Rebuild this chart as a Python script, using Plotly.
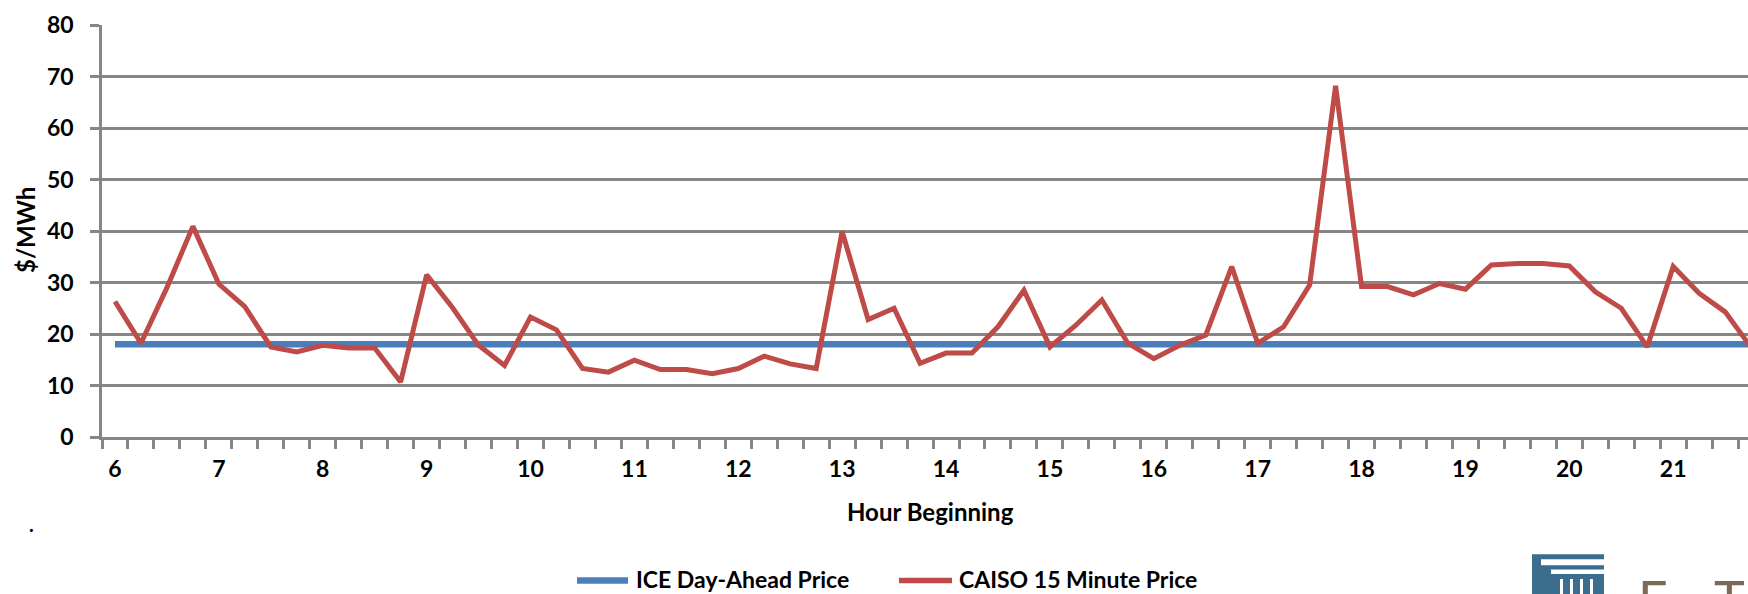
import plotly.graph_objects as go

# ---------------- data ----------------
hour_ticks = [6, 7, 8, 9, 10, 11, 12, 13, 14, 15, 16, 17, 18, 19, 20, 21]
hour_labels = ["6", "7", "8", "9", "10", "11", "12", "13", "14", "15", "16", "17", "18", "19", "20", "21"]
# 15-minute intervals (hour beginning), 6:00 .. 21:45
intervals = [h + q / 4 for h in range(6, 22) for q in range(4)]

caiso_15min = [26.3, 18.2, 29.0, 40.9, 29.7, 25.3, 17.5, 16.5, 17.8, 17.3, 17.3, 10.7, 31.5,
               25.1, 17.8, 13.9, 23.3, 20.8, 13.3, 12.6, 14.9, 13.1, 13.1, 12.3, 13.3, 15.7,
               14.2, 13.3, 39.9, 22.8, 25.0, 14.3, 16.3, 16.3, 21.4, 28.5, 17.5, 21.7, 26.6,
               18.2, 15.2, 17.8, 19.8, 33.1, 18.2, 21.4, 29.5, 68.2, 29.2, 29.2, 27.6, 29.8,
               28.7, 33.4, 33.7, 33.7, 33.2, 28.2, 25.0, 17.5, 33.1, 27.9, 24.3, 17.4]
ice_day_ahead_price = 18.0
ice_day_ahead = [ice_day_ahead_price] * len(intervals)

series_names = ["ICE Day-Ahead Price", "CAISO 15 Minute Price"]

# ---------------- layout geometry ----------------
W, H = 1748, 594
ML, MT, MB, MR = 102, 25, 157, 0
PW, PH = W - ML - MR, H - MT - MB


def px(x):
    return (x - ML) / PW


def py(y):
    return (MT + PH - y) / PH


GRID = "#868686"
BLUE = "#4a7ebb"
RED = "#be4b48"
FONT = "Lato"

fig = go.Figure()
fig.add_trace(go.Scatter(x=intervals, y=ice_day_ahead, mode="lines", name=series_names[0],
                         line=dict(color=BLUE, width=6.5)))
fig.add_trace(go.Scatter(x=intervals, y=caiso_15min, mode="lines", name=series_names[1],
                         line=dict(color=RED, width=5)))

fig.update_layout(
    width=W, height=H,
    margin=dict(l=ML, r=MR, t=MT, b=MB, pad=0, autoexpand=False),
    paper_bgcolor="white", plot_bgcolor="white",
    font=dict(family=FONT, color="black"),
    showlegend=False,
    xaxis=dict(range=[5.875, 21.72], tickmode="array", tickvals=hour_ticks, ticktext=hour_labels,
               ticks="", showline=True, linecolor=GRID, linewidth=2.5, showgrid=False, zeroline=False,
               automargin=False,
               minor=dict(ticks="outside", ticklen=9, tickcolor=GRID, tickwidth=2.5,
                          tickmode="linear", tick0=5.875, dtick=0.25, showgrid=False),
               tickfont=dict(family=FONT, size=23, color="black", weight="bold"),
               ticklabelstandoff=10),
    yaxis=dict(range=[0, 80], tickmode="linear", tick0=0, dtick=10, showgrid=True, gridcolor=GRID,
               gridwidth=2.5, showline=True, linecolor=GRID, linewidth=2.5, zeroline=False,
               automargin=False,
               ticks="outside", ticklen=9, tickcolor=GRID, tickwidth=2.5,
               tickfont=dict(family=FONT, size=23, color="black", weight="bold"),
               ticklabelstandoff=12),
)

annotations = [
    dict(text="Hour Beginning", x=px(931), y=py(511.7), xref="paper", yref="paper",
         xanchor="center", yanchor="middle", showarrow=False,
         font=dict(family=FONT, size=24, color="black", weight="bold")),
    dict(text="$/MWh", x=px(25), y=py(230), xref="paper", yref="paper", textangle=-90,
         xanchor="center", yanchor="middle", showarrow=False,
         font=dict(family=FONT, size=24, color="black", weight="bold")),
    dict(text=".", x=px(31), y=py(524), xref="paper", yref="paper",
         xanchor="center", yanchor="middle", showarrow=False,
         font=dict(family=FONT, size=20, color="black", weight="bold")),
    # legend texts
    dict(text=series_names[0], x=px(634), y=py(578.5), xref="paper", yref="paper",
         xanchor="left", yanchor="middle", showarrow=False,
         font=dict(family=FONT, size=23, color="black", weight="bold")),
    dict(text=series_names[1], x=px(957), y=py(578.5), xref="paper", yref="paper",
         xanchor="left", yanchor="middle", showarrow=False,
         font=dict(family=FONT, size=23, color="black", weight="bold")),
    # partially visible logo lettering
    dict(text="E", x=px(1636), y=py(566), xref="paper", yref="paper",
         xanchor="left", yanchor="top", showarrow=False,
         font=dict(family=FONT, size=52, color="#7b6a55")),
    dict(text="T", x=px(1712), y=py(566), xref="paper", yref="paper",
         xanchor="left", yanchor="top", showarrow=False,
         font=dict(family=FONT, size=52, color="#7b6a55")),
]

LOGO = "#3b6d8f"
shapes = [
    # legend line samples
    dict(type="line", xref="paper", yref="paper", x0=px(577), x1=px(628), y0=py(580.5), y1=py(580.5),
         line=dict(color=BLUE, width=6.5)),
    dict(type="line", xref="paper", yref="paper", x0=px(899), x1=px(952), y0=py(580.5), y1=py(580.5),
         line=dict(color=RED, width=5.5)),
    # logo icon
    dict(type="rect", xref="paper", yref="paper", x0=px(1532), x1=px(1604), y0=py(554.3), y1=py(600),
         fillcolor=LOGO, line=dict(width=0), layer="above"),
    dict(type="rect", xref="paper", yref="paper", x0=px(1541), x1=px(1604), y0=py(559.3), y1=py(565.3),
         fillcolor="white", line=dict(width=0), layer="above"),
    dict(type="rect", xref="paper", yref="paper", x0=px(1551), x1=px(1604), y0=py(569.5), y1=py(574),
         fillcolor="white", line=dict(width=0), layer="above"),
]
for sx in (1560, 1570, 1580, 1590):
    shapes.append(dict(type="rect", xref="paper", yref="paper", x0=px(sx), x1=px(sx + 3),
                       y0=py(579), y1=py(600), fillcolor="white", line=dict(width=0), layer="above"))

fig.update_layout(annotations=annotations, shapes=shapes)
fig.write_html("out.html", config={"displayModeBar": False},
               post_script="document.body.style.margin='0';document.body.style.overflow='hidden';")
